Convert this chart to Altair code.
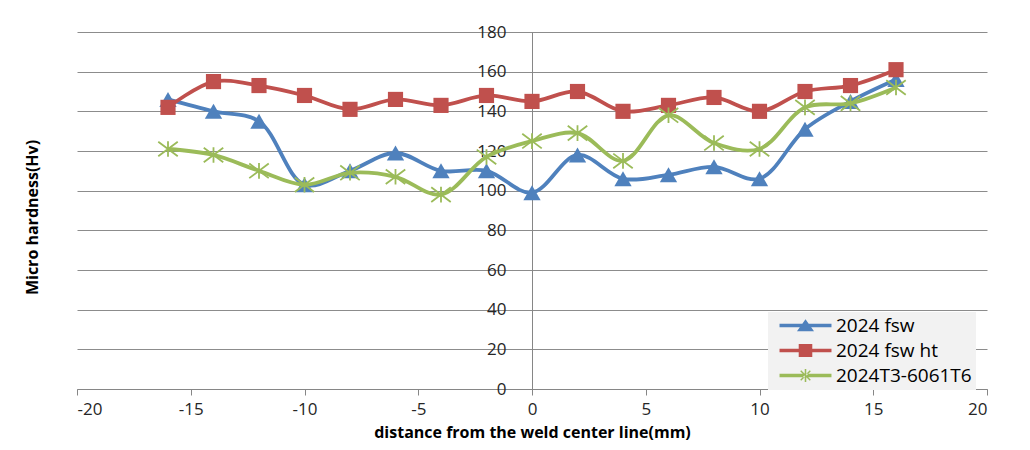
import altair as alt
import pandas as pd

# ---- data ----
x_mm = [-16, -14, -12, -10, -8, -6, -4, -2, 0, 2, 4, 6, 8, 10, 12, 14, 16]
fsw = [146, 140, 135, 103, 110, 119, 110, 110, 99, 118, 106, 108, 112, 106, 131, 145, 156]
fsw_ht = [142, 155, 153, 148, 141, 146, 143, 148, 145, 150, 140, 143, 147, 140, 150, 153, 161]
mixed = [121, 118, 110, 103, 109, 107, 98, 117, 125, 129, 115, 138, 124, 121, 142, 144, 152]

series_names = ["2024 fsw", "2024 fsw ht", "2024T3-6061T6"]
series_values = [fsw, fsw_ht, mixed]
colors = ["#4F81BD", "#C0504D", "#9BBB59"]

x_ticks = [-20, -15, -10, -5, 0, 5, 10, 15, 20]
y_ticks = [0, 20, 40, 60, 80, 100, 120, 140, 160, 180]

rows = []
for name, vals in zip(series_names, series_values):
    for xv, yv in zip(x_mm, vals):
        rows.append({"x": xv, "y": yv, "series": name})
df = pd.DataFrame(rows)

# ---- marker shapes ----
star_path = "M-1,-0.75L1,0.75M-1,0.75L1,-0.75M0,-0.8V0.8"
marker_shapes = ["triangle-up", "square", star_path]
marker_sizes = [300, 230, 380]
marker_filled = [True, True, False]

# legend symbols: line + marker (unit space, scaled by sqrt(size)/2)
bar = "M-0.33,-0.3H8.33V0.3H-0.33Z"
leg_tri = bar + "M4,-1.05L5.42,0.95H2.58Z"
leg_sq = bar + "M2.87,-1.1H5.13V1.1H2.87Z"
leg_star = (bar + "M3.87,-1.1H4.13V1.1H3.87Z"
            "M3.285,-0.885L4.885,0.715L4.715,0.885L3.115,-0.715Z"
            "M3.285,0.885L4.885,-0.715L4.715,-0.885L3.115,0.715Z")
legend_paths = [leg_tri, leg_sq, leg_star]

X = alt.X(
    "x:Q",
    scale=alt.Scale(domain=[-20, 20], nice=False, zero=False),
    axis=alt.Axis(
        values=x_ticks,
        labelExpr="'' + datum.value",
        title="distance from the weld center line(mm)",
        grid=False,
        domainColor="#868686",
        tickColor="#868686",
        tickSize=6,
        labelPadding=6,
        labelFont="Open Sans",
        labelFontSize=17,
        labelColor="#262626",
        titleFont="Open Sans",
        titleFontSize=16,
        titleFontWeight="bold",
        titleColor="#000000",
        titleBaseline="middle",
        titleY=43,
    ),
)
Y = alt.Y(
    "y:Q",
    scale=alt.Scale(domain=[0, 180], nice=False),
    axis=alt.Axis(
        values=y_ticks,
        title="Micro hardness(Hv)",
        offset=-455,
        grid=True,
        gridColor="#8c8c8c",
        gridWidth=1,
        domainColor="#868686",
        tickSize=0,
        labelPadding=26,
        labelFont="Open Sans",
        labelFontSize=17,
        labelColor="#262626",
        titleFont="Open Sans",
        titleFontSize=16,
        titleFontWeight="bold",
        titleColor="#000000",
        titleBaseline="middle",
        titleAngle=270,
        titleX=-500,
        titleY=185,
    ),
)

base = alt.Chart(df)
layers = []
for name, col, shp, sz, filled in zip(series_names, colors, marker_shapes, marker_sizes, marker_filled):
    sub = base.transform_filter(alt.datum.series == name)
    layers.append(
        sub.mark_line(interpolate="catmull-rom", strokeWidth=3.8, color=col).encode(x=X, y=Y)
    )
    layers.append(
        sub.mark_point(shape=shp, size=sz, filled=filled, opacity=1, color=col,
                       strokeWidth=1.8).encode(x=X, y=Y)
    )

legend_layer = base.transform_filter("false").mark_point(
    filled=True, opacity=1, size=144
).encode(
    x=X,
    y=Y,
    fill=alt.Fill("series:N", scale=alt.Scale(domain=series_names, range=colors), title=None),
    shape=alt.Shape("series:N", scale=alt.Scale(domain=series_names, range=legend_paths), title=None),
)
layers.append(legend_layer)

chart = alt.layer(*layers).properties(
    width=910,
    height=357,
    autosize=alt.AutoSizeParams(type="none"),
    padding={"left": 69, "top": 24, "right": 35, "bottom": 53},
).configure_view(stroke=None).configure_legend(
    orient="none",
    legendX=691,
    legendY=280,
    fillColor="#F2F2F2",
    padding=4,
    symbolSize=144,
    symbolStrokeWidth=0,
    labelFont="Open Sans",
    labelFontSize=19,
    labelColor="#000000",
    labelOffset=45,
    rowPadding=5,
)

chart.save("out.html", embed_options={"renderer": "svg", "actions": False})
